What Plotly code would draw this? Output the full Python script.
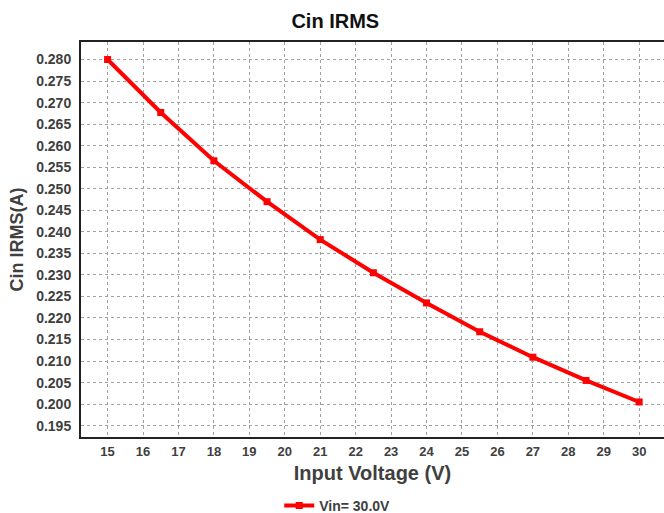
import plotly.graph_objects as go

x_vals = [15, 16.5, 18, 19.5, 21, 22.5, 24, 25.5, 27, 28.5, 30]
y_vals = [0.2800, 0.2677, 0.2565, 0.2470, 0.2382, 0.2305, 0.2235, 0.2168, 0.2109, 0.2055, 0.2005]
series_name = "<b>Vin= 30.0V</b>"
x_ticks = list(range(15, 31))
y_ticks = [0.195 + 0.005 * i for i in range(18)]

font_fam = "Liberation Sans, Arial, sans-serif"
fig = go.Figure()
fig.add_trace(go.Scatter(
    x=x_vals, y=y_vals, mode="lines+markers", name=series_name,
    line=dict(color="#ff0000", width=4),
    marker=dict(symbol="square", size=7, color="#ff0000"),
))
fig.update_layout(
    width=664, height=513,
    margin=dict(l=81, r=0, t=42, b=76, autoexpand=False),
    paper_bgcolor="white", plot_bgcolor="white",
    title=dict(text="<b>Cin IRMS</b>", x=0.505, xanchor="center", yref="container", y=0.9727, yanchor="top",
               font=dict(family=font_fam, size=20, color="#111111")),
    font=dict(family=font_fam, color="#404040"),
    showlegend=True,
    legend=dict(orientation="h", x=0.34, xanchor="left", yref="container", y=0.0448, yanchor="top",
                font=dict(family=font_fam, size=14, color="#404040")),
    xaxis=dict(
        range=[14.25, 30.7], tickmode="array", tickvals=x_ticks,
        ticktext=[f"<b>{v}</b>" for v in x_ticks],
        tickfont=dict(size=13, color="#404040"),
        showgrid=True, gridcolor="#a0a0a0", griddash="dot", gridwidth=1,
        showline=True, linecolor="#222222", linewidth=2, mirror=True,
        ticks="outside", ticklen=1, tickcolor="white", zeroline=False, automargin=False,
        title=dict(text="<b>Input Voltage (V)</b>", font=dict(size=20, color="#404040"), standoff=8),
    ),
    yaxis=dict(
        range=[0.19237, 0.28407], tickmode="array", tickvals=y_ticks,
        ticktext=[f"<b>{v:.3f}</b>" for v in y_ticks],
        tickfont=dict(size=14, color="#404040"),
        showgrid=True, gridcolor="#a0a0a0", griddash="dot", gridwidth=1,
        showline=True, linecolor="#222222", linewidth=2, mirror=False,
        ticks="outside", ticklen=5, tickcolor="white", zeroline=False, automargin=False,
        title=dict(text="<b>Cin IRMS(A)</b>", font=dict(size=18, color="#404040"), standoff=8),
    ),
)
fig.write_html(
    "out.html",
    config={"displayModeBar": False},
    post_script="document.body.style.margin='0';document.body.style.overflow='hidden';",
)
